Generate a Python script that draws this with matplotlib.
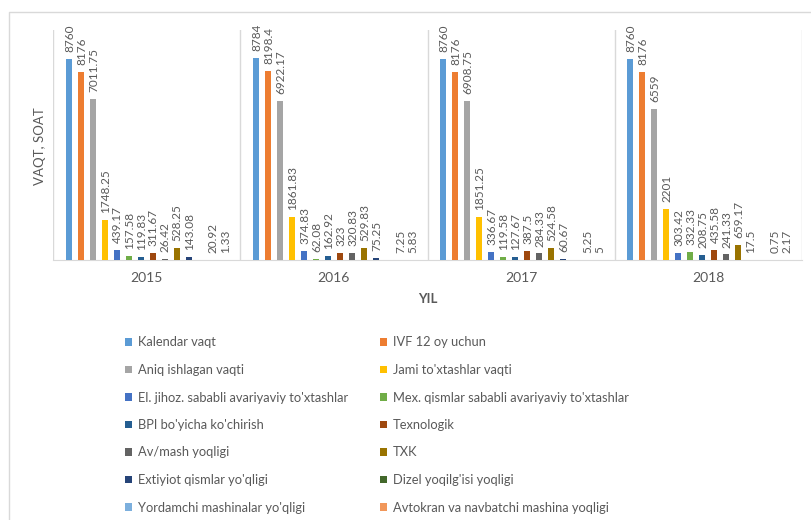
import numpy as np
import matplotlib
matplotlib.use("Agg")
import matplotlib.pyplot as plt
from matplotlib.lines import Line2D

plt.rcParams['font.family'] = ['Lato', 'DejaVu Sans']

years = ["2015", "2016", "2017", "2018"]

series = [
    "Kalendar vaqt",
    "IVF 12 oy uchun",
    "Aniq ishlagan vaqti",
    "Jami to'xtashlar vaqti",
    "El. jihoz. sababli avariyaviy to'xtashlar",
    "Mex. qismlar sababli avariyaviy to'xtashlar",
    "BPI bo'yicha ko'chirish",
    "Texnologik",
    "Av/mash yoqligi",
    "TXK",
    "Extiyiot qismlar yo'qligi",
    "Dizel yoqilg'isi yoqligi",
    "Yordamchi mashinalar yo'qligi",
    "Avtokran va navbatchi mashina yoqligi",
]

colors = [
    "#5B9BD5", "#ED7D31", "#A5A5A5", "#FFC000", "#4472C4", "#70AD47",
    "#255E91", "#9E480E", "#636363", "#997300", "#264478", "#43682B",
    "#7CAFDD", "#F1975A",
]

nan = np.nan
v2015 = [8760, 8176, 7011.75, 1748.25, 439.17, 157.58, 119.83, 311.67, 26.42, 528.25, 143.08, nan, 20.92, 1.33]
v2016 = [8784, 8198.4, 6922.17, 1861.83, 374.83, 62.08, 162.92, 323, 320.83, 529.83, 75.25, nan, 7.25, 5.83]
v2017 = [8760, 8176, 6908.75, 1851.25, 336.67, 119.58, 127.67, 387.5, 284.33, 524.58, 60.67, nan, 5.25, 5]
v2018 = [8760, 8176, 6559, 2201, 303.42, 332.33, 208.75, 435.58, 241.33, 659.17, 17.5, nan, 0.75, 2.17]

values = np.array([v2015, v2016, v2017, v2018], dtype=float)  # rows: years, cols: series

TXT = "#595959"
GRID = "#D9D9D9"
W, H = 811, 520

fig = plt.figure(figsize=(W / 100, H / 100), dpi=100)

# outer chart border (left and top edges)
fig.add_artist(Line2D([9 / W, 9 / W, 1], [0, 1 - 12 / H, 1 - 12 / H],
                      transform=fig.transFigure, color=GRID, lw=1))

ax = fig.add_axes([53 / W, 1 - 260 / H, 749 / W, 230 / H])

n = len(series)
slot = 0.064
bw = 0.032
xc = np.arange(len(years))
handles = []
for i, name in enumerate(series):
    x = xc + (i - (n - 1) / 2) * slot
    h = np.nan_to_num(values[:, i])
    bars = ax.bar(x, h, width=bw, color=colors[i], label=name, zorder=3)
    handles.append(bars)
    for xi, v in zip(x, values[:, i]):
        if np.isnan(v):
            continue
        ax.annotate(f"{v:g}", (xi, v), xytext=(0.5, 5), textcoords="offset points",
                    rotation=90, ha="center", va="bottom", fontsize=8.5, color=TXT)

ax.set_xlim(-0.5, len(years) - 0.5)
ax.set_ylim(0, 10000)
ax.set_yticks([])
ax.set_xticks(xc)
ax.set_xticklabels(years, fontsize=10, color=TXT)
ax.tick_params(axis="x", length=0, pad=9)
for b in np.arange(len(years) + 1) - 0.5:
    ax.axvline(b, color=GRID, lw=1, zorder=1)
for s in ["top", "right"]:
    ax.spines[s].set_visible(False)
ax.spines["left"].set_visible(False)
ax.spines["bottom"].set_color(GRID)

ax.set_xlabel("YIL", fontsize=9.5, color=TXT, fontweight="bold")
ax.xaxis.set_label_coords(0.5, (260 - 299) / 230)
ax.xaxis.label.set_va("center")

fig.text(40 / W, 1 - 146 / H, "VAQT, SOAT", rotation=90, ha="center", va="center",
         fontsize=9.5, color=TXT)

leg_kw = dict(frameon=False, fontsize=9.3, labelcolor=TXT, handlelength=0.55,
              handleheight=0.55, handletextpad=0.45, labelspacing=1.2,
              borderpad=0, borderaxespad=0, loc="upper left",
              bbox_transform=fig.transFigure)
leg1 = fig.legend(handles[0::2], series[0::2], bbox_to_anchor=(125 / W, 1 - 336.5 / H), **leg_kw)
leg2 = fig.legend(handles[1::2], series[1::2], bbox_to_anchor=(380 / W, 1 - 336.5 / H), **leg_kw)

fig.savefig("out.png", dpi=100)
